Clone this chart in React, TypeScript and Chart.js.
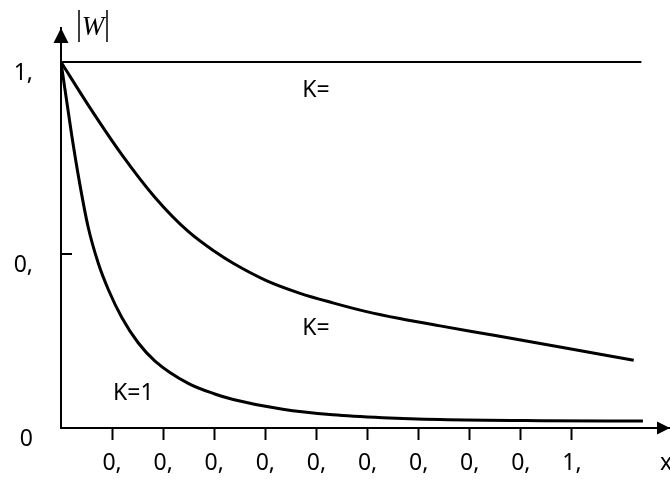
import React, { useEffect, useRef } from "react";
import { Chart, registerables } from "chart.js";

Chart.register(...registerables);

// Upper curve (K = ...)
const upperX = [0, 0.053, 0.119, 0.184, 0.249, 0.301, 0.337, 0.403, 0.468, 0.532, 0.598, 0.663, 0.742, 0.853, 0.982, 1.121];
const upperY = [1, 0.883, 0.747, 0.63, 0.537, 0.482, 0.45, 0.402, 0.368, 0.342, 0.318, 0.299, 0.279, 0.252, 0.22, 0.185];

// Lower curve (K=1)
const lowerX = [0, 0.021, 0.037, 0.053, 0.073, 0.093, 0.119, 0.151, 0.184, 0.249, 0.301, 0.337, 0.434, 0.532, 0.63, 0.742, 0.94, 1.139];
const lowerY = [1, 0.8, 0.665, 0.55, 0.45, 0.377, 0.302, 0.233, 0.183, 0.122, 0.093, 0.078, 0.051, 0.036, 0.028, 0.023, 0.02, 0.019];

// Horizontal line (K=∞)
const flatX = [0, 1.136];
const flatY = [1, 1];

// Axis ticks and labels
const xTickValues = [0.1, 0.2, 0.3, 0.4, 0.5, 0.6, 0.7, 0.8, 0.9, 1.0];
const xTickLabels = ["0,", "0,", "0,", "0,", "0,", "0,", "0,", "0,", "0,", "1,"];
const yTickValues = [0, 0.475, 1];
const yTickLabels = ["0", "0,", "1,"];

// Curve annotations [text, x, y]
const annotations: [string, number, number][] = [
  ["K=", 0.472, 0.904],
  ["K=", 0.472, 0.254],
  ["K=1", 0.102, 0.077],
];

const toPoints = (xs: number[], ys: number[]) => xs.map((x, i) => ({ x, y: ys[i] }));

const FONT = "'Noto Sans', 'Liberation Sans', sans-serif";

const decorPlugin = {
  id: "decor",
  afterDraw(chart: any) {
    const ctx = chart.ctx as CanvasRenderingContext2D;
    const xs = chart.scales.x;
    const ys = chart.scales.y;
    const area = chart.chartArea;
    ctx.save();
    ctx.fillStyle = "#000";
    ctx.strokeStyle = "#000";
    // y arrow
    ctx.beginPath();
    ctx.moveTo(area.left, area.top);
    ctx.lineTo(area.left - 7.5, area.top + 15);
    ctx.lineTo(area.left + 7.5, area.top + 15);
    ctx.closePath();
    ctx.fill();
    // x arrow
    ctx.beginPath();
    ctx.moveTo(area.right, area.bottom);
    ctx.lineTo(area.right - 13, area.bottom - 6.5);
    ctx.lineTo(area.right - 13, area.bottom + 6.5);
    ctx.closePath();
    ctx.fill();
    // inward y tick
    ctx.lineWidth = 2;
    const ty = Math.round(ys.getPixelForValue(yTickValues[1]));
    ctx.beginPath();
    ctx.moveTo(area.left, ty);
    ctx.lineTo(area.left + 11, ty);
    ctx.stroke();
    // annotations
    ctx.font = `23px ${FONT}`;
    ctx.textBaseline = "alphabetic";
    ctx.textAlign = "left";
    annotations.forEach(([t, x, y]) => {
      ctx.fillText(t, xs.getPixelForValue(x), ys.getPixelForValue(y));
    });
    // x axis title
    ctx.fillText("x", area.right - 10, area.bottom + 42);
    // |W| label
    const wx = area.left + 18;
    ctx.lineWidth = 1.5;
    ctx.beginPath();
    ctx.moveTo(wx, 10);
    ctx.lineTo(wx, 42);
    ctx.moveTo(wx + 28, 10);
    ctx.lineTo(wx + 28, 42);
    ctx.stroke();
    ctx.font = `italic 27px 'Liberation Serif', serif`;
    ctx.textAlign = "center";
    ctx.fillText("W", wx + 14, 35);
    ctx.restore();
  },
};

export default function App() {
  const ref = useRef<HTMLCanvasElement | null>(null);
  useEffect(() => {
    if (!ref.current) return;
    const lineStyle = {
      pointRadius: 0,
      borderColor: "#000",
      fill: false,
      cubicInterpolationMode: "monotone" as const,
    };
    const chart = new Chart(ref.current, {
      type: "line",
      data: {
        datasets: [
          { ...lineStyle, data: toPoints(flatX, flatY), borderWidth: 2 },
          { ...lineStyle, data: toPoints(upperX, upperY), borderWidth: 3 },
          { ...lineStyle, data: toPoints(lowerX, lowerY), borderWidth: 3 },
        ],
      },
      options: {
        animation: false,
        responsive: false,
        layout: { padding: { top: 28, right: 0, left: 0, bottom: 0 } },
        plugins: { legend: { display: false }, tooltip: { enabled: false } },
        scales: {
          x: {
            type: "linear",
            min: 0,
            max: 1.192,
            afterBuildTicks: (s: any) => {
              s.ticks = xTickValues.map((v) => ({ value: v }));
            },
            afterFit: (s: any) => {
              s.height = 54;
              s.paddingLeft = 0;
              s.paddingRight = 0;
            },
            ticks: {
              autoSkip: false,
              maxRotation: 0,
              padding: 10,
              color: "#000",
              font: { family: FONT, size: 23 },
              callback: (_v: any, i: number) => xTickLabels[i],
            },
            grid: {
              drawOnChartArea: false,
              drawTicks: true,
              tickLength: 12,
              tickWidth: 2,
              tickColor: "#000",
              color: "#000",
            },
            border: { display: true, color: "#000", width: 2 },
          },
          y: {
            type: "linear",
            min: 0,
            max: 1.093,
            afterBuildTicks: (s: any) => {
              s.ticks = yTickValues.map((v) => ({ value: v }));
            },
            afterFit: (s: any) => {
              s.width = 61;
              s.paddingTop = 0;
              s.paddingBottom = 0;
            },
            ticks: {
              autoSkip: false,
              padding: 28,
              labelOffset: 11,
              color: "#000",
              font: { family: FONT, size: 23 },
              callback: (_v: any, i: number) => yTickLabels[i],
            },
            grid: { drawOnChartArea: false, drawTicks: false },
            border: { display: true, color: "#000", width: 2 },
          },
        },
      },
      plugins: [decorPlugin],
    });
    return () => chart.destroy();
  }, []);
  return (
    <div style={{ position: "absolute", left: 0, top: 0, width: 670, height: 482, background: "#fff" }}>
      <canvas ref={ref} width={670} height={482} style={{ display: "block" }} />
    </div>
  );
}
